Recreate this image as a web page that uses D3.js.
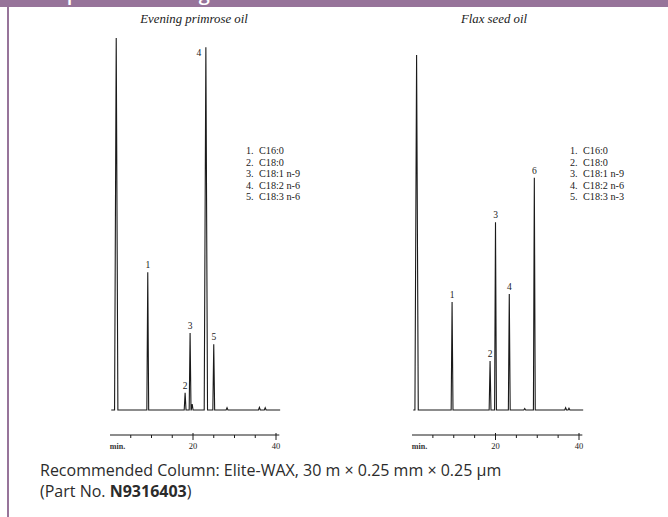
<!DOCTYPE html>
<html><head><meta charset="utf-8">
<script src="https://cdn.jsdelivr.net/npm/d3@7"></script>
<style>
html,body{margin:0;padding:0;background:#fff;}
svg{display:block;}
</style></head>
<body>
<svg id="c" width="668" height="517"></svg>
<script>
// ---- data ----
const headerTitle = "Example Chromatogram";
const panelTitles = ["Evening primrose oil", "Flax seed oil"];
// peaks: retention time (min), relative height, peak label ("" = unlabeled)
const primroseTimes   = [1.5, 9.1, 18.1, 19.3, 19.8, 23.1, 25.0, 28.2, 36.0, 37.4];
const primroseHeights = [100, 37, 4.6, 20.7, 1.6, 97.5, 17.7, 0.6, 0.7, 0.6];
const primroseLabels  = ["", "1", "2", "3", "", "4", "5", "", "", ""];
const flaxTimes   = [1.1, 9.6, 18.7, 20.0, 23.3, 27.0, 29.3, 36.8, 37.6];
const flaxHeights = [95.4, 29, 13.2, 50.5, 31.2, 0.4, 62.4, 0.6, 0.5];
const flaxLabels  = ["", "1", "2", "3", "4", "", "6", "", ""];
const primroseLegend = ["C16:0", "C18:0", "C18:1 n-9", "C18:2 n-6", "C18:3 n-6"];
const flaxLegend     = ["C16:0", "C18:0", "C18:1 n-9", "C18:2 n-6", "C18:3 n-3"];
const tickValues = [5, 10, 15, 20, 25, 30, 35, 40];
const tickLabels = {20: "20", 40: "40"};
const axisUnit = "min.";
const footLine1 = "Recommended Column: Elite-WAX, 30 m \u00d7 0.25 mm \u00d7 0.25 \u00b5m";
const footPartPrefix = "(Part No. ";
const footPartNo = "N9316403";
const footPartSuffix = ")";

// ---- drawing ----
const svg = d3.select("#c");
const purple = "#97749a";
const ink = "#1a1a1a";
const serif = "'Liberation Serif','DejaVu Serif',serif";

svg.append("rect").attr("x",0).attr("y",0).attr("width",668).attr("height",7).attr("fill",purple);
svg.append("text").attr("x",14).attr("y",-0.5).attr("fill","#fff")
  .attr("font-family","'Open Sans',sans-serif").attr("font-weight",600).attr("font-size",20)
  .text(headerTitle);
svg.append("rect").attr("x",7).attr("y",7).attr("width",2).attr("height",510).attr("fill",purple);

const y = d3.scaleLinear().domain([0,100]).range([410,38]);

function panel(cfg){
  const x = d3.scaleLinear().domain([0,40]).range(cfg.range);
  const g = svg.append("g");
  g.append("text").attr("x",cfg.titleX).attr("y",23).attr("text-anchor","middle")
    .attr("font-family",serif).attr("font-style","italic").attr("font-size",12.8).attr("fill",ink)
    .text(cfg.title);

  // build trace from peak list
  const pts = [[0.3,0]];
  cfg.times.forEach((t,i)=>{
    const w = cfg.heights[i] > 80 ? 0.4 : 0.22;
    pts.push([t-w,0],[t,cfg.heights[i]],[t+w,0]);
  });
  pts.push([41,0]);
  pts.sort((a,b)=>a[0]-b[0]);
  const line = d3.line().x(d=>x(d[0])).y(d=>y(d[1]));
  g.append("path").attr("d",line(pts)).attr("fill","none").attr("stroke",ink)
    .attr("stroke-width",1.1).attr("stroke-linejoin","miter");

  // peak labels
  cfg.times.forEach((t,i)=>{
    const lab = cfg.labels[i];
    if(!lab) return;
    const h = cfg.heights[i];
    const tall = h > 80;
    g.append("text")
      .attr("x", x(t) + (tall ? -7 : 0))
      .attr("y", tall ? y(h) + 9 : y(h) - 4)
      .attr("text-anchor","middle").attr("font-family",serif).attr("font-size",9.5).attr("fill",ink)
      .text(lab);
  });

  // legend
  cfg.legend.forEach((s,i)=>{
    const yy = 154 + i*11.6;
    g.append("text").attr("x",cfg.legX).attr("y",yy).attr("font-family",serif).attr("font-size",10.2)
      .attr("fill",ink).text((i+1)+".");
    g.append("text").attr("x",cfg.legX+13).attr("y",yy).attr("font-family",serif).attr("font-size",10.2)
      .attr("fill",ink).text(s);
  });

  // axis
  const axY = 435;
  g.append("line").attr("x1",x(0)).attr("x2",x(40.8)).attr("y1",axY).attr("y2",axY)
    .attr("stroke",ink).attr("stroke-width",1);
  tickValues.forEach(v=>{
    const major = tickLabels[v] !== undefined;
    g.append("line").attr("x1",x(v)).attr("x2",x(v)).attr("y1",major?axY-2:axY).attr("y2",axY+(major?5:3))
      .attr("stroke",ink).attr("stroke-width",1);
    if(major){
      g.append("text").attr("x",x(v)).attr("y",axY+14).attr("text-anchor","middle")
        .attr("font-family",serif).attr("font-size",8.5).attr("fill",ink).text(tickLabels[v]);
    }
  });
  g.append("text").attr("x",x(1.8)).attr("y",axY+14).attr("text-anchor","middle")
    .attr("font-family",serif).attr("font-weight","bold").attr("font-size",8).attr("fill","#333").text(axisUnit);
}

panel({range:[110,276], titleX:194, title:panelTitles[0], times:primroseTimes, heights:primroseHeights,
  labels:primroseLabels, legend:primroseLegend, legX:246});
panel({range:[412,579], titleX:494, title:panelTitles[1], times:flaxTimes, heights:flaxHeights,
  labels:flaxLabels, legend:flaxLegend, legX:570});

const foot = svg.append("g").attr("font-family","'Open Sans',sans-serif").attr("font-size",16).attr("fill","#2b2b2b");
foot.append("text").attr("x",40).attr("y",476).text(footLine1);
const t2 = foot.append("text").attr("x",40).attr("y",497);
t2.append("tspan").text(footPartPrefix);
t2.append("tspan").attr("font-weight","bold").text(footPartNo);
t2.append("tspan").text(footPartSuffix);
</script>
</body></html>
